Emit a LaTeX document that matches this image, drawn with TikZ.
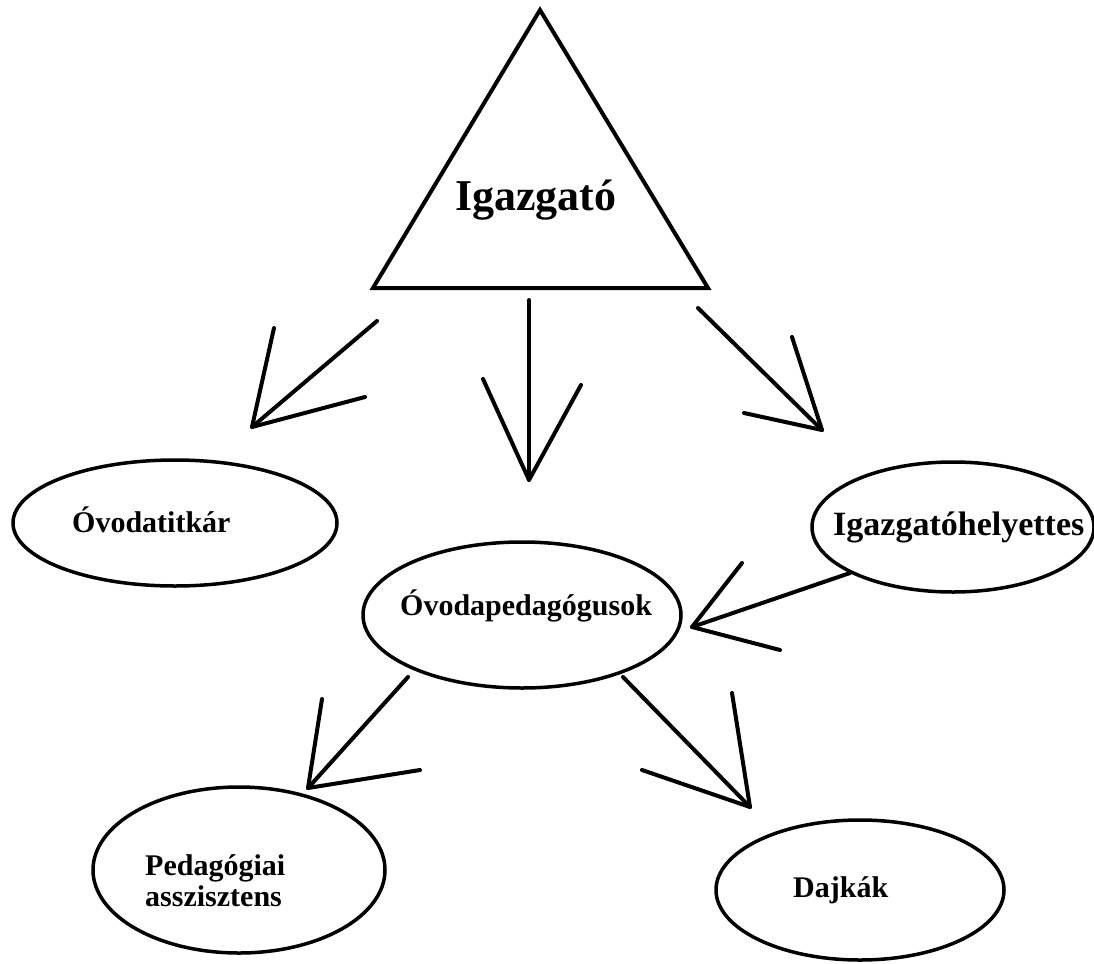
\documentclass[tikz,border=0pt]{standalone}
\usepackage{fontspec}
\setmainfont{Liberation Serif}
\usetikzlibrary{shapes.geometric}
\begin{document}
\begin{tikzpicture}[x=1pt,y=-1pt,
  lab/.style={font=\bfseries\fontsize{30}{30}\selectfont, anchor=base west, inner sep=0pt},
  oval/.style={draw, ellipse, line width=3.5pt, inner sep=0pt},
  ln/.style={line width=4pt, line cap=round, line join=round}]
\useasboundingbox (0,0) rectangle (1094,963);
\fill[white] (0,0) rectangle (1094,963);

% triangle
\coordinate (tA) at (540,10);
\coordinate (tB) at (373,288);
\coordinate (tC) at (708,288);
\draw[line width=4pt, line join=miter] (tA) -- (tB) -- (tC) -- cycle;
\node[lab, font=\bfseries\fontsize{44}{44}\selectfont] (igl) at (455,210) {Igazgató};

% ellipses
\node[oval, minimum width=324pt, minimum height=126pt] (tit) at (175,523) {};
\node[oval, minimum width=282pt, minimum height=130pt] (hely) at (953,527) {};
\node[oval, minimum width=318pt, minimum height=146pt] (ped) at (522,615) {};
\node[oval, minimum width=292pt, minimum height=166pt] (asz) at (239,870) {};
\node[oval, minimum width=288pt, minimum height=140pt] (daj) at (860,890) {};

% labels
\node[lab] (titl) at (72,532) {Óvodatitkár};
\node[lab, font=\bfseries\fontsize{34}{34}\selectfont] (helyl) at (833,535) {Igazgatóhelyettes};
\node[lab] (pedl) at (400,615) {Óvodapedagógusok};
\node[lab] (aszl1) at (145,875) {Pedagógiai};
\node[lab] (aszl2) at (145,906) {asszisztens};
\node[lab] (dajl) at (793,897) {Dajkák};

% arrow 1
\coordinate (a1s) at (377,321); \coordinate (a1t) at (252,427);
\coordinate (a1b) at (274,328); \coordinate (a1c) at (365,397);
\draw[ln] (a1s) -- (a1t); \draw[ln] (a1b) -- (a1t) -- (a1c);
% arrow 2
\coordinate (a2s) at (529,300); \coordinate (a2t) at (529,480);
\coordinate (a2b) at (483,379); \coordinate (a2c) at (581,385);
\draw[ln] (a2s) -- (a2t); \draw[ln] (a2b) -- (a2t) -- (a2c);
% arrow 3
\coordinate (a3s) at (698,308); \coordinate (a3t) at (822,430);
\coordinate (a3b) at (792,337); \coordinate (a3c) at (744,413);
\draw[ln] (a3s) -- (a3t); \draw[ln] (a3b) -- (a3t) -- (a3c);
% arrow 4
\coordinate (a4s) at (850,573); \coordinate (a4t) at (692,627);
\coordinate (a4b) at (742,563); \coordinate (a4c) at (780,650);
\draw[ln] (a4s) -- (a4t); \draw[ln] (a4b) -- (a4t) -- (a4c);
% arrow 5
\coordinate (a5s) at (408,677); \coordinate (a5t) at (308,788);
\coordinate (a5b) at (322,699); \coordinate (a5c) at (420,770);
\draw[ln] (a5s) -- (a5t); \draw[ln] (a5b) -- (a5t) -- (a5c);
% arrow 6
\coordinate (a6s) at (623,677); \coordinate (a6t) at (750,807);
\coordinate (a6b) at (732,693); \coordinate (a6c) at (642,770);
\draw[ln] (a6s) -- (a6t); \draw[ln] (a6b) -- (a6t) -- (a6c);
\end{tikzpicture}
\end{document}
